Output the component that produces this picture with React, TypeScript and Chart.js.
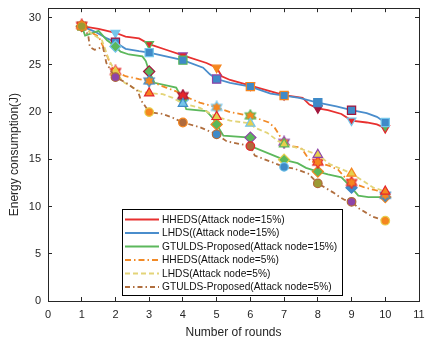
import React, { useEffect, useRef } from "react";
import { Chart, registerables } from "chart.js";

Chart.register(...registerables);

// ---------- data ----------
const roundTicks = [0, 1, 2, 3, 4, 5, 6, 7, 8, 9, 10, 11];
const energyTicks = [0, 5, 10, 15, 20, 25, 30];

const seriesLabels = [
  "HHEDS(Attack node=15%)",
  "LHDS((Attack node=15%)",
  "GTULDS-Proposed(Attack node=15%)",
  "HHEDS(Attack node=5%)",
  "LHDS(Attack node=5%)",
  "GTULDS-Proposed(Attack node=5%)",
];

const hhedsHighX = [1, 1.5, 2, 2.3, 2.7, 3, 3.5, 4, 4.7, 5, 5.15, 5.4, 6, 6.5, 7, 7.55, 7.75, 8, 8.3, 8.7, 9, 9.45, 9.75, 10];
const hhedsHighY = [29.1, 28.8, 28.4, 28.0, 27.8, 27.2, 26.6, 26.0, 25.2, 24.7, 23.8, 23.4, 22.8, 22.3, 21.8, 21.5, 20.8, 20.4, 20.2, 19.8, 19.1, 18.9, 18.7, 18.3];

const lhdsHighX = [1, 1.4, 1.75, 2, 2.3, 2.7, 3, 3.5, 4, 4.6, 4.8, 5, 5.4, 6, 6.6, 7, 7.45, 8, 8.55, 9, 9.45, 9.75, 10];
const lhdsHighY = [29.1, 28.5, 27.8, 27.4, 26.7, 26.45, 26.3, 25.9, 25.5, 24.7, 24.0, 23.5, 23.1, 22.7, 21.95, 21.75, 21.5, 21.0, 20.6, 20.2, 19.9, 19.5, 18.9];

const gtuldsHighX = [1, 1.1, 1.5, 1.75, 2, 2.15, 2.4, 2.8, 2.9, 3, 3.16, 3.8, 4, 4.1, 4.7, 4.9, 5, 5.2, 6, 6.08, 6.9, 7, 7.4, 7.65, 8, 8.3, 8.7, 9, 9.2, 9.5, 10];
const gtuldsHighY = [29.1, 28.1, 28.6, 27.6, 26.95, 26.4, 26.1, 25.9, 25.4, 24.3, 23.1, 22.6, 21.3, 20.3, 20.1, 19.3, 18.7, 17.5, 17.3, 16.3, 15.1, 14.95, 14.6, 14.1, 13.7, 13.4, 13.1, 12.0, 11.15, 11.0, 11.0];

const hhedsLowX = [1, 1.25, 1.5, 1.68, 1.88, 2, 2.3, 2.7, 3, 3.5, 3.8, 4, 4.5, 5, 5.4, 6, 6.55, 6.72, 6.87, 7, 7.2, 7.5, 7.66, 7.8, 8, 8.35, 8.6, 8.8, 9, 9.4, 9.75, 10];
const hhedsLowY = [29.2, 28.5, 28.0, 26.6, 24.8, 24.3, 23.8, 23.5, 23.3, 22.6, 22.2, 21.75, 21.0, 20.5, 20.0, 19.6, 18.9, 18.35, 17.5, 16.8, 16.4, 16.25, 15.4, 14.75, 14.7, 14.3, 13.9, 13.1, 12.55, 12.0, 11.7, 11.2];

const lhdsLowX = [1, 1.3, 1.6, 1.8, 2, 2.27, 2.72, 3, 3.4, 3.7, 4, 4.5, 5, 5.4, 6, 6.13, 6.5, 6.82, 7, 7.5, 8, 8.35, 8.65, 9, 9.35, 9.65, 10];
const lhdsLowY = [29.1, 28.3, 27.6, 25.6, 24.2, 23.1, 22.2, 22.0, 21.9, 21.5, 20.9, 20.45, 19.5, 19.1, 18.8, 18.35, 17.8, 16.95, 16.6, 16.1, 15.5, 14.5, 14.05, 13.5, 12.7, 12.0, 11.6];

const gtuldsLowX = [1, 1.19, 1.24, 1.38, 1.63, 1.73, 1.93, 2, 2.32, 2.67, 2.75, 3, 3.4, 3.7, 4, 4.5, 5, 5.3, 6, 6.13, 6.42, 7, 7.31, 7.71, 8, 8.45, 8.65, 8.8, 9, 9.24, 9.64, 10];
const gtuldsLowY = [29.1, 28.2, 26.9, 26.6, 26.9, 25.2, 24.0, 23.7, 23.1, 22.2, 21.3, 20.0, 19.8, 19.4, 18.9, 18.4, 17.65, 16.9, 16.4, 15.4, 15.0, 14.2, 14.0, 13.5, 12.45, 11.5, 11.0, 10.7, 10.5, 9.75, 8.9, 8.5];

// ---------- styles ----------
const cRed = "#e4262c";
const cBlue = "#3f8ac8";
const cLBlue = "#74c5ea";
const cGreen = "#5bb85a";
const cOrange = "#f5861f";
const cYellow = "#e6cf4c";
const cPurple = "#8e44a8";
const cDRed = "#a3163c";
const cBrown = "#b06a3b";
const cOlive = "#9c9a34";

const lineColors = ["#e8302f", "#4a8dcc", "#5cb85c", "#f28a26", "#e3d478", "#b06e3e"];
const lineDashes: number[][] = [[], [], [], [6, 3, 1.5, 3], [5, 3], [5, 3, 1.5, 3]];

// marker face / edge colours for rounds 1..10
const markerFaces = [
  [cOrange, cLBlue, cRed, cRed, cOrange, cRed, cRed, cDRed, cRed, cGreen],
  [cBlue, cBlue, cBlue, cBlue, cBlue, cBlue, cBlue, cBlue, cBlue, cBlue],
  [cOlive, cGreen, cGreen, cGreen, cGreen, cGreen, cGreen, cGreen, cBlue, cBlue],
  [cOrange, cOrange, cOrange, cRed, cOrange, cOrange, cOrange, cOrange, cOrange, cOrange],
  [cYellow, cYellow, cOrange, cLBlue, cYellow, cYellow, cYellow, cYellow, cYellow, cOrange],
  [cOlive, cPurple, cOrange, cBrown, cBlue, cBrown, cBlue, cOlive, cPurple, cOrange],
];
const markerEdges = [
  [cRed, cLBlue, cGreen, cPurple, cOrange, cRed, cDRed, cDRed, cLBlue, cRed],
  [cOlive, cDRed, cLBlue, cGreen, cPurple, cOrange, cOrange, cBlue, cDRed, cLBlue],
  [cOlive, cLBlue, cDRed, cLBlue, cOrange, cPurple, cYellow, cOrange, cBlue, cOrange],
  [cRed, cRed, cBlue, cDRed, cLBlue, cGreen, cPurple, cRed, cRed, cBlue],
  [cOrange, cYellow, cRed, cBlue, cRed, cLBlue, cGreen, cPurple, cOrange, cRed],
  [cOrange, cBrown, cYellow, cOrange, cBrown, cRed, cLBlue, cBrown, cBrown, cYellow],
];

const FONT = "'Liberation Sans', Arial, Helvetica, sans-serif";
const TEXT = "#262626";

// target plot-area edges (pixels) of the reference layout
const AREA_TOP = 7;
const AREA_RIGHT = 419;

function makeHexagram(face: string, edge: string): HTMLCanvasElement {
  const size = 14;
  const c = document.createElement("canvas");
  c.width = size;
  c.height = size;
  const g = c.getContext("2d")!;
  const cx = size / 2, cy = size / 2, ro = 6, ri = 3.5;
  g.beginPath();
  for (let i = 0; i < 12; i++) {
    const a = -Math.PI / 2 + (i * Math.PI) / 6;
    const r = i % 2 === 0 ? ro : ri;
    const px = cx + r * Math.cos(a), py = cy + r * Math.sin(a);
    if (i === 0) g.moveTo(px, py); else g.lineTo(px, py);
  }
  g.closePath();
  g.fillStyle = face;
  g.fill();
  g.lineWidth = 1.2;
  g.strokeStyle = edge;
  g.stroke();
  return c;
}

const legendPlugin = {
  id: "boxLegend",
  afterDraw(chart: any) {
    const ctx = chart.ctx;
    ctx.save();
    ctx.setLineDash([]);
    ctx.lineWidth = 1;
    const bx = 122.5, by = 209.5, bw = 220, bh = 86;
    ctx.fillStyle = "#ffffff";
    ctx.fillRect(bx, by, bw, bh);
    ctx.strokeStyle = "#000000";
    ctx.strokeRect(bx, by, bw, bh);
    ctx.font = `10.2px ${FONT}`;
    ctx.textBaseline = "middle";
    ctx.textAlign = "left";
    seriesLabels.forEach((label, i) => {
      const y = 219.5 + i * 13.5;
      ctx.save();
      ctx.strokeStyle = lineColors[i];
      ctx.lineWidth = 1.8;
      ctx.setLineDash(lineDashes[i]);
      ctx.beginPath();
      ctx.moveTo(125, y);
      ctx.lineTo(159, y);
      ctx.stroke();
      ctx.restore();
      ctx.fillStyle = "#111111";
      ctx.fillText(label, 162, y + 0.5);
    });
    ctx.restore();
  },
};

const seriesX = [hhedsHighX, lhdsHighX, gtuldsHighX, hhedsLowX, lhdsLowX, gtuldsLowX];
const seriesY = [hhedsHighY, lhdsHighY, gtuldsHighY, hhedsLowY, lhdsLowY, gtuldsLowY];
const markerKinds = ["down", "rect", "rectRot", "hex", "triangle", "circle"];
const markerSizes = [5, 5.8, 5.6, 7, 5.4, 4.3];

const innerGrid = {
  display: true,
  drawOnChartArea: false,
  drawTicks: true,
  tickLength: -4,
  color: TEXT,
  tickColor: TEXT,
  lineWidth: 1,
};
const frameBorder = { display: true, color: TEXT, width: 1 };

const zeroPad = (s: any) => {
  s.paddingTop = 0;
  s.paddingBottom = 0;
  s.paddingLeft = 0;
  s.paddingRight = 0;
};

export default function App() {
  const ref = useRef<HTMLCanvasElement>(null);

  useEffect(() => {
    const canvas = ref.current!;
    const hexCache: Record<string, HTMLCanvasElement> = {};
    const getHex = (f: string, e: string) => {
      const k = f + e;
      if (!hexCache[k]) hexCache[k] = makeHexagram(f, e);
      return hexCache[k];
    };

    const datasets = seriesLabels.map((label, i) => {
      const pts = seriesX[i].map((x, j) => ({ x, y: seriesY[i][j] }));
      const isMarker = (c: any) => c.raw && Number.isInteger(c.raw.x);
      const idx = (c: any) => Math.round(c.raw.x) - 1;
      return {
        label,
        data: pts,
        xAxisID: "x",
        yAxisID: "y",
        order: 6 - i,
        borderColor: lineColors[i],
        borderWidth: 1.8,
        borderDash: lineDashes[i],
        fill: false,
        tension: 0,
        pointRadius: (c: any) => (isMarker(c) ? markerSizes[i] : 0),
        pointBorderWidth: 1.2,
        pointBackgroundColor: (c: any) => (isMarker(c) ? markerFaces[i][idx(c)] : lineColors[i]),
        pointBorderColor: (c: any) => (isMarker(c) ? markerEdges[i][idx(c)] : lineColors[i]),
        pointStyle: (c: any) => {
          const kind = markerKinds[i];
          if (kind === "hex") {
            if (!isMarker(c)) return "circle";
            return getHex(markerFaces[i][idx(c)], markerEdges[i][idx(c)]);
          }
          if (kind === "down") return "triangle";
          return kind;
        },
        pointRotation: markerKinds[i] === "down" ? 180 : 0,
      };
    });

    const setRoundTicks = (s: any) => {
      s.ticks = roundTicks.map((v) => ({ value: v }));
    };
    const setEnergyTicks = (s: any) => {
      s.ticks = energyTicks.map((v) => ({ value: v }));
    };

    let padTop = 7;
    let padRight = 12;

    const chart = new Chart(canvas, {
      type: "line",
      data: { datasets: datasets as any },
      options: {
        responsive: false,
        animation: false,
        devicePixelRatio: 1,
        events: [],
        layout: { padding: { left: 0, top: padTop, right: padRight, bottom: 0 } },
        plugins: { legend: { display: false }, tooltip: { enabled: false } },
        scales: {
          x: {
            type: "linear",
            position: "bottom",
            min: 0,
            max: 11,
            afterBuildTicks: setRoundTicks,
            afterFit: (s: any) => {
              s.height = 39;
              zeroPad(s);
            },
            grid: innerGrid,
            border: frameBorder,
            ticks: { font: { family: FONT, size: 11 }, color: TEXT, padding: 11, maxRotation: 0, autoSkip: false },
            title: {
              display: true,
              text: "Number of rounds",
              font: { family: FONT, size: 12 },
              color: TEXT,
              padding: { top: 1, bottom: 0 },
            },
          },
          x2: {
            type: "linear",
            position: "top",
            min: 0,
            max: 11,
            afterBuildTicks: setRoundTicks,
            afterFit: (s: any) => {
              s.height = 0;
              zeroPad(s);
            },
            grid: innerGrid,
            border: frameBorder,
            ticks: { display: false },
          },
          y: {
            type: "linear",
            position: "left",
            min: 0,
            max: 31,
            afterBuildTicks: setEnergyTicks,
            afterFit: (s: any) => {
              s.width = 48;
              zeroPad(s);
            },
            grid: innerGrid,
            border: frameBorder,
            ticks: { font: { family: FONT, size: 11 }, color: TEXT, padding: 11, autoSkip: false },
            title: {
              display: true,
              text: "Energy consumption(J)",
              font: { family: FONT, size: 12 },
              color: TEXT,
              padding: { top: 7, bottom: 0 },
            },
          },
          y2: {
            type: "linear",
            position: "right",
            min: 0,
            max: 31,
            afterBuildTicks: setEnergyTicks,
            afterFit: (s: any) => {
              s.width = 0;
              zeroPad(s);
            },
            grid: innerGrid,
            border: frameBorder,
            ticks: { display: false },
          },
        },
      },
      plugins: [legendPlugin],
    } as any);

    // nudge the layout padding so the plot area lands on the reference edges
    for (let k = 0; k < 3; k++) {
      const a: any = (chart as any).chartArea;
      if (!a || !isFinite(a.top) || !isFinite(a.right)) break;
      const dTop = a.top - AREA_TOP;
      const dRight = AREA_RIGHT - a.right;
      if (Math.abs(dTop) < 0.5 && Math.abs(dRight) < 0.5) break;
      padTop = Math.max(-12, Math.min(20, padTop - dTop));
      padRight = Math.max(0, Math.min(30, padRight - dRight));
      (chart as any).options.layout.padding = { left: 0, top: padTop, right: padRight, bottom: 0 };
      chart.update();
    }

    return () => chart.destroy();
  }, []);

  return (
    <div style={{ position: "absolute", left: 0, top: 0, width: 431, height: 340, background: "#fff" }}>
      <canvas ref={ref} width={431} height={340} style={{ display: "block", width: 431, height: 340 }} />
    </div>
  );
}
